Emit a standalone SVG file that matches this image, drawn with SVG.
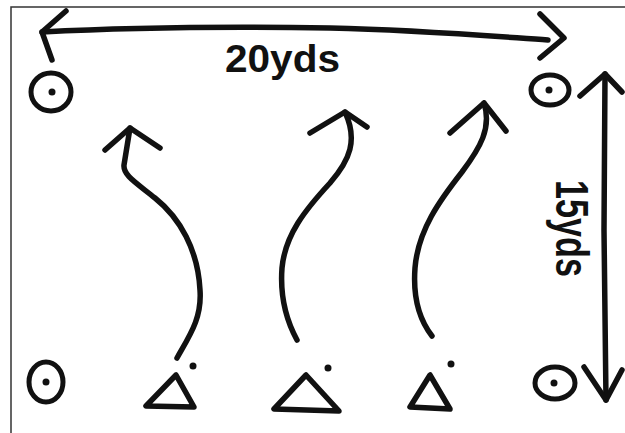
<svg xmlns="http://www.w3.org/2000/svg" width="625" height="433" viewBox="0 0 625 433">
<style>
.ink{fill:none;stroke:#111;stroke-width:5.5;stroke-linecap:round;stroke-linejoin:round}
.cone{fill:none;stroke:#111;stroke-width:5}
.dot{fill:#111}
.frame{fill:none;stroke:#333;stroke-width:1.5}
.lbl{font-family:"Liberation Sans",Arial,sans-serif;font-weight:bold;fill:#111}
</style>
<rect width="625" height="433" fill="#fff"/>
<path class="frame" d="M11,433 V7 H625"/>
<g id="width-dimension">
<path class="ink" d="M42,32 C120,28 200,26 330,28 C420,30 490,36 548,40"/>
<path class="ink" d="M66,11 L42,32 L52,60"/>
<path class="ink" d="M540,14 L564,38 L540,58"/>
<text class="lbl" x="225" y="72" font-size="38" textLength="115" lengthAdjust="spacingAndGlyphs">20yds</text>
</g>
<g id="height-dimension">
<path class="ink" d="M605,74 L604,230 L606,400"/>
<path class="ink" d="M580,96 L605,74 L622,92"/>
<path class="ink" d="M584,367 L606,400 L622,370"/>
<text class="lbl" font-size="46" textLength="97" lengthAdjust="spacingAndGlyphs" transform="translate(556,180) rotate(90)">15yds</text>
</g>
<g id="cone-top-left"><ellipse class="cone" cx="51" cy="92" rx="20" ry="19"/><circle class="dot" cx="52" cy="92" r="3.5"/></g>
<g id="cone-top-right"><ellipse class="cone" cx="550" cy="90" rx="19" ry="15"/><circle class="dot" cx="549" cy="90" r="3.5"/></g>
<g id="cone-bottom-left"><ellipse class="cone" cx="46" cy="382" rx="17" ry="20"/><circle class="dot" cx="46" cy="382" r="3.5"/></g>
<g id="cone-bottom-right"><ellipse class="cone" cx="555" cy="383" rx="20" ry="16"/><circle class="dot" cx="554" cy="383" r="3.5"/></g>
<g id="player-1"><path class="ink" d="M176,375 L146,406 L194,407 Z"/><circle class="dot" cx="193" cy="366" r="3.5"/></g>
<g id="player-2"><path class="ink" d="M306,375 L274,409 L339,411 Z"/><circle class="dot" cx="328" cy="368" r="3.5"/></g>
<g id="player-3"><path class="ink" d="M430,375 L410,407 L450,409 Z"/><circle class="dot" cx="451" cy="364" r="3.5"/></g>
<g id="connectors">
<path class="ink" d="M177,358 C190,335 202,318 200,290 C198,250 180,218 155,198 C135,182 123,175 124,165 L130,128"/>
<path class="ink" d="M105,150 L130,128 L160,148"/>
<path class="ink" d="M297,340 C285,318 280,295 282,268 C285,235 305,210 330,183 C350,160 358,140 345,112"/>
<path class="ink" d="M310,133 L345,112 L367,127"/>
<path class="ink" d="M432,336 C418,318 413,295 415,268 C418,230 440,200 462,172 C480,148 492,128 484,103"/>
<path class="ink" d="M450,133 L484,103 L506,131"/>
</g>
</svg>
